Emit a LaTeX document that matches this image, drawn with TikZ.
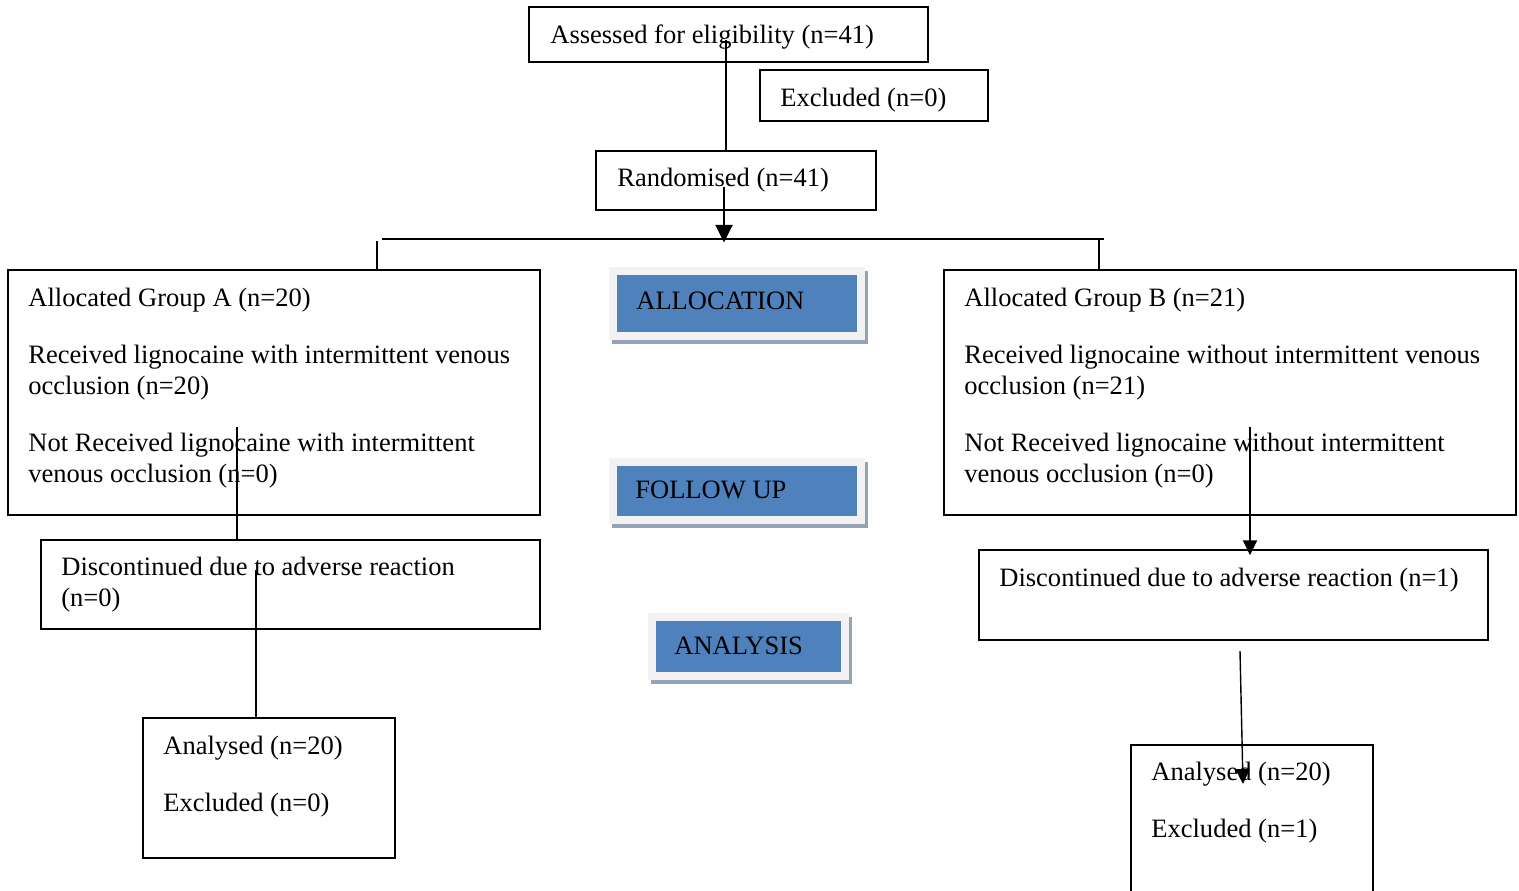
\documentclass[tikz,border=0pt]{standalone}
\usepackage{fontspec}
\setmainfont{Liberation Serif}
\usetikzlibrary{arrows.meta,backgrounds}
\definecolor{phaseblue}{HTML}{4F81BD}
\definecolor{phaseframe}{HTML}{F2F2F2}
\definecolor{phaseshadow}{HTML}{95A3B9}
\tikzset{
  >={Triangle[length=8.5pt,width=8pt]},
}
\tikzstyle{every node}=[font=\fontsize{15.1}{17.6}\selectfont]
\tikzstyle{box}=[draw,line width=1.1pt,inner sep=0pt,outer sep=0pt,anchor=north west]
\tikzstyle{txt}=[inner sep=0pt,anchor=base west,align=left]
\tikzstyle{phase}=[fill=phaseblue,draw=phaseframe,line width=0.16cm,inner sep=0pt,outer sep=0pt,anchor=north west]
\tikzstyle{link}=[line width=0.8pt]
\tikzstyle{heavy}=[line width=1.7pt]

\begin{document}
\begin{tikzpicture}[x=0.02cm,y=-0.02cm]
    \useasboundingbox (0,0) rectangle (1519,890);

    \node[box,minimum width=7.98cm,minimum height=1.1cm] (assess) at (529,7) {};
    \node[txt] (assessT) at ([shift={(21,36)}]assess.north west) {Assessed for eligibility (n=41)};
    \node[box,minimum width=4.56cm,minimum height=1.02cm] (excl) at (760,70) {};
    \node[txt] (exclT) at ([shift={(20,36)}]excl.north west) {Excluded (n=0)};
    \node[box,minimum width=5.6cm,minimum height=1.18cm] (rand) at (596,151) {};
    \node[txt] (randT) at ([shift={(21,35)}]rand.north west) {Randomised (n=41)};

    % multi-line texts sit on the baseline of their last line
    \node[box,minimum width=10.64cm,minimum height=4.9cm] (groupA) at (8,270) {};
    \node[txt] (groupAT) at ([shift={(20,212)}]groupA.north west)
      {Allocated Group A (n=20)\\[0.52cm]
       Received lignocaine with intermittent venous\\ occlusion (n=20)\\[0.52cm]
       Not Received lignocaine with intermittent\\ venous occlusion (n=0)};
    \node[box,minimum width=11.44cm,minimum height=4.9cm] (groupB) at (944,270) {};
    \node[txt] (groupBT) at ([shift={(20,212)}]groupB.north west)
      {Allocated Group B (n=21)\\[0.52cm]
       Received lignocaine without intermittent venous\\ occlusion (n=21)\\[0.52cm]
       Not Received lignocaine without intermittent\\ venous occlusion (n=0)};

    \node[box,minimum width=9.98cm,minimum height=1.78cm] (discA) at (41,540) {};
    \node[txt] (discAT) at ([shift={(20,66)}]discA.north west)
      {Discontinued due to adverse reaction\\ (n=0)};
    \node[box,minimum width=10.18cm,minimum height=1.8cm] (discB) at (979,550) {};
    \node[txt] (discBT) at ([shift={(20,36)}]discB.north west)
      {Discontinued due to adverse reaction (n=1)};

    \node[box,minimum width=5.04cm,minimum height=2.8cm] (analA) at (143,718) {};
    \node[txt] (analAT) at ([shift={(20,93)}]analA.north west)
      {Analysed (n=20)\\[0.52cm] Excluded (n=0)};
    \node[box,minimum width=4.84cm,minimum height=3.2cm] (analB) at (1131,745) {};
    \node[txt] (analBT) at ([shift={(20,92)}]analB.north west)
      {Analysed (n=20)\\[0.52cm] Excluded (n=1)};

    \node[phase,minimum width=4.96cm,minimum height=1.3cm] (alloc) at (613,271) {};
    \node[txt] (allocT) at ([shift={(23,38)}]alloc.north west) {ALLOCATION};
    \node[phase,minimum width=4.96cm,minimum height=1.16cm] (follow) at (613,462) {};
    \node[txt] (followT) at ([shift={(22,36)}]follow.north west) {FOLLOW UP};
    \node[phase,minimum width=3.86cm,minimum height=1.18cm] (analysis) at (652,617) {};
    \node[txt] (analysisT) at ([shift={(22,37)}]analysis.north west) {ANALYSIS};
    \begin{scope}[on background layer]
      \foreach \p in {alloc,follow,analysis}
        \fill[phaseshadow] ([shift={(-1,0)}]\p.north west) rectangle ([shift={(7,8)}]\p.south east);
    \end{scope}

    \coordinate (c1) at (726,40);
    \coordinate (c2) at (724,187);
    \coordinate (splitL) at (382,239);
    \coordinate (splitR) at (1104,239);
    \coordinate (stubA) at (377,241);
    \coordinate (stubB) at (1099,240);
    \coordinate (a1) at (237,427);
    \coordinate (a2) at (256,570);
    \coordinate (b1) at (1250,427);
    \coordinate (b2) at (1240,651);
    \coordinate (b3) at (1243,784);

    \draw[heavy] (c1) -- (c1 |- rand.north);
    \draw[heavy,-{Triangle[length=10pt,width=9.5pt]}] (c2) -- ([yshift=-2pt]c2 |- splitL);
    \draw[line width=1.1pt] (splitL) -- (splitR);
    \draw[link] (stubA) -- (stubA |- groupA.north);
    \draw[link] (stubB) -- (stubB |- groupB.north);
    \draw[link] (a1) -- (a1 |- discA.north);
    \draw[link] (a2) -- (a2 |- analA.north);
    \draw[link,->] (b1) -- ([yshift=-3pt]b1 |- discB.north);
    \draw[link,->] (b2) -- (b3);
  \end{tikzpicture}
\end{document}
